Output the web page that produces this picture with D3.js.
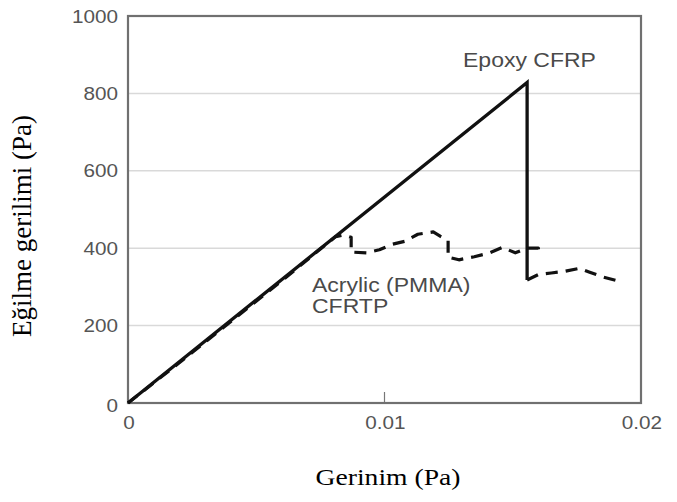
<!DOCTYPE html>
<html><head><meta charset="utf-8">
<script src="https://cdn.jsdelivr.net/npm/d3@7"></script>
<style>body{margin:0;background:#fff}</style>
</head><body>
<svg id="c" width="677" height="502"></svg>
<script>
const xTicks = [0, 0.01, 0.02];
const xTickLabels = ["0", "0.01", "0.02"];
const yTicks = [0, 200, 400, 600, 800, 1000];
const yTickLabels = ["0", "200", "400", "600", "800", "1000"];
const epoxyStrain = [0, 0.01556, 0.01556];
const epoxyStress = [0, 828, 318];
const acrylicStrain = [0, 0.002, 0.004, 0.006, 0.0075, 0.0081, 0.0084, 0.0087, 0.0087, 0.0093, 0.0098, 0.0103, 0.0108, 0.0113, 0.0119, 0.0122, 0.01248, 0.01248, 0.0129, 0.0135, 0.0141, 0.0146, 0.0151, 0.01556, 0.0160, 0.0160, 0.0160, 0.01556, 0.0160, 0.0165, 0.0170, 0.0176, 0.0180, 0.0185, 0.0193];
const acrylicStress = [0, 104, 210, 316, 398, 430, 434, 428, 390, 388, 396, 410, 418, 436, 442, 430, 420, 377, 370, 378, 388, 402, 388, 400, 400, 390, null, 318, 332, 336, 340, 348, 338, 326, 312];
const seriesLabels = ["Epoxy CFRP", "Acrylic (PMMA)", "CFRTP"];
const xTitle = "Gerinim (Pa)";
const yTitle = "Eğilme gerilimi (Pa)";

const svg = d3.select("#c");
const L = 128, R = 641, T = 16, B = 403;
const x = d3.scaleLinear().domain([0, 0.02]).range([L, R]);
const y = d3.scaleLinear().domain([0, 1000]).range([B, T]);

// grid
svg.append("g").selectAll("line").data(yTicks.filter(v => v > 0 && v < 1000)).join("line")
  .attr("x1", L).attr("x2", R).attr("y1", d => y(d)).attr("y2", d => y(d))
  .attr("stroke", "#d9d9d9").attr("stroke-width", 1.5);

// x tick (inward)
svg.append("g").selectAll("line").data(xTicks.filter(v => v > 0 && v < 0.02)).join("line")
  .attr("x1", d => x(d)).attr("x2", d => x(d)).attr("y1", B).attr("y2", B - 11)
  .attr("stroke", "#777").attr("stroke-width", 1.2);

// frame
svg.append("rect").attr("x", L).attr("y", T).attr("width", R - L).attr("height", B - T)
  .attr("fill", "none").attr("stroke", "#707070").attr("stroke-width", 2.2);

const tickFont = "'Liberation Sans', Arial, sans-serif";
// y tick labels
svg.append("g").selectAll("text").data(yTicks).join("text")
  .attr("transform", d => `translate(118,${y(d) + 6.5 + (d === 0 ? 2 : 0)}) scale(1.15,1)`)
  .attr("text-anchor", "end").attr("font-family", tickFont).attr("font-size", 18)
  .attr("fill", "#555").text((d, i) => yTickLabels[i]);
// x tick labels
svg.append("g").selectAll("text").data(xTicks).join("text")
  .attr("transform", d => `translate(${x(d) + 1},429) scale(1.15,1)`)
  .attr("text-anchor", "middle").attr("font-family", tickFont).attr("font-size", 18)
  .attr("fill", "#555").text((d, i) => xTickLabels[i]);

const line = d3.line().defined(d => d[1] != null).x(d => x(d[0])).y(d => y(d[1]));
const epoxy = epoxyStrain.map((v, i) => [v, epoxyStress[i]]);
const acrylic = acrylicStrain.map((v, i) => [v, acrylicStress[i]]);

svg.append("path").attr("d", line(acrylic)).attr("fill", "none")
  .attr("stroke", "#111").attr("stroke-width", 3.2).attr("stroke-dasharray", "12,8")
  .attr("stroke-linejoin", "round");
svg.append("path").attr("d", line(epoxy)).attr("fill", "none")
  .attr("stroke", "#111").attr("stroke-width", 3.3).attr("stroke-linejoin", "miter");

// annotations
svg.append("text").attr("transform", "translate(463,67) scale(1.15,1)")
  .attr("font-family", tickFont).attr("font-size", 20).attr("fill", "#4a4a4a").text(seriesLabels[0]);
svg.append("text").attr("transform", "translate(312,292) scale(1.15,1)")
  .attr("font-family", tickFont).attr("font-size", 20).attr("fill", "#4a4a4a").text(seriesLabels[1]);
svg.append("text").attr("transform", "translate(312,313) scale(1.15,1)")
  .attr("font-family", tickFont).attr("font-size", 20).attr("fill", "#4a4a4a").text(seriesLabels[2]);

// axis titles
const serif = "'Liberation Serif', 'Times New Roman', serif";
svg.append("text").attr("transform", "translate(388,485) scale(1.15,1)").attr("text-anchor", "middle")
  .attr("font-family", serif).attr("font-size", 24).attr("fill", "#000").text(xTitle);
svg.append("text").attr("transform", "translate(31,226) rotate(-90)").attr("text-anchor", "middle")
  .attr("font-family", serif).attr("font-size", 27).attr("fill", "#000").text(yTitle);
</script>
</body></html>
